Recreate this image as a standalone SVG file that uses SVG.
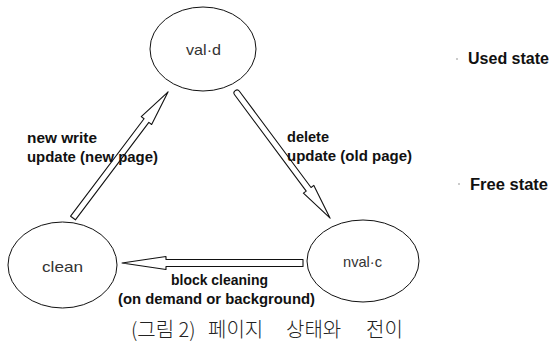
<svg xmlns="http://www.w3.org/2000/svg" width="550" height="355" viewBox="0 0 550 355">
  <style>
    .state { fill: #ffffff; stroke: #111111; stroke-width: 1; }
    .state-label { font-family: "Liberation Sans", Arial, sans-serif; font-size: 15px; fill: #333333; }
    .arrow { fill: #ffffff; stroke: #111111; stroke-width: 1.1; stroke-linejoin: round; }
    .edge-label { font-family: "Liberation Sans", Arial, sans-serif; font-size: 15px; font-weight: bold; fill: #111111; }
    .legend { font-family: "Liberation Sans", Arial, sans-serif; font-size: 16px; font-weight: bold; fill: #111111; }
    .caption { font-family: "Noto Sans CJK KR", "Noto Sans", sans-serif; font-size: 20px; font-weight: 300; fill: #222222; }
  </style>
  <rect width="550" height="355" fill="#ffffff"/>

  <!-- state nodes -->
  <g id="node-valid">
    <ellipse class="state" cx="203" cy="49" rx="53" ry="42"/>
    <text class="state-label" x="186" y="55" textLength="35" lengthAdjust="spacingAndGlyphs">val·d</text>
  </g>
  <g id="node-clean">
    <ellipse class="state" cx="62.5" cy="265" rx="54.5" ry="43"/>
    <text class="state-label" x="42" y="272" textLength="41" lengthAdjust="spacingAndGlyphs">clean</text>
  </g>
  <g id="node-invalid">
    <ellipse class="state" cx="363" cy="261" rx="56" ry="41"/>
    <text class="state-label" x="343" y="267" textLength="39" lengthAdjust="spacingAndGlyphs">nval·c</text>
  </g>

  <!-- transitions: hollow block arrows -->
  <g id="connectors">
    <path class="arrow" transform="translate(73,218) rotate(-52.98)" d="M0,-3 H122 V-6.5 L158,0 L122,6.5 V3 H0 Z"/>
    <path class="arrow" transform="translate(237,93) rotate(53.35)" d="M0,-3 H120 V-6.5 L156,0 L120,6.5 V3 H0 A3,3 0 0 1 0,-3 Z"/>
    <path class="arrow" transform="translate(303,263) rotate(180)" d="M0,-3.5 H137 V-6.5 L181,0 L137,6.5 V3.5 H0 Z"/>
  </g>

  <!-- transition labels -->
  <g id="label-write">
    <text class="edge-label" x="27" y="143" textLength="70" lengthAdjust="spacingAndGlyphs">new write</text>
    <text class="edge-label" x="27" y="162" textLength="131" lengthAdjust="spacingAndGlyphs">update (new page)</text>
  </g>
  <g id="label-delete">
    <text class="edge-label" x="287" y="142" textLength="42" lengthAdjust="spacingAndGlyphs">delete</text>
    <text class="edge-label" x="287" y="161" textLength="125" lengthAdjust="spacingAndGlyphs">update (old page)</text>
  </g>
  <g id="label-cleaning">
    <text class="edge-label" x="171" y="285" textLength="97" lengthAdjust="spacingAndGlyphs">block cleaning</text>
    <text class="edge-label" x="118" y="304" textLength="197" lengthAdjust="spacingAndGlyphs">(on demand or background)</text>
  </g>

  <!-- state-class legend -->
  <g id="legend-used">
    <circle cx="457" cy="59" r="0.8" fill="#888888"/>
    <text class="legend" x="468" y="64" textLength="81" lengthAdjust="spacingAndGlyphs">Used state</text>
  </g>
  <g id="legend-free">
    <circle cx="459" cy="184" r="0.8" fill="#888888"/>
    <text class="legend" x="470" y="190" textLength="78" lengthAdjust="spacingAndGlyphs">Free state</text>
  </g>

  <!-- figure caption -->
  <text class="caption" y="337"><tspan x="131">(그림 2)</tspan><tspan x="208">페이지</tspan><tspan x="286">상태와</tspan><tspan x="366">전이</tspan></text>
</svg>
